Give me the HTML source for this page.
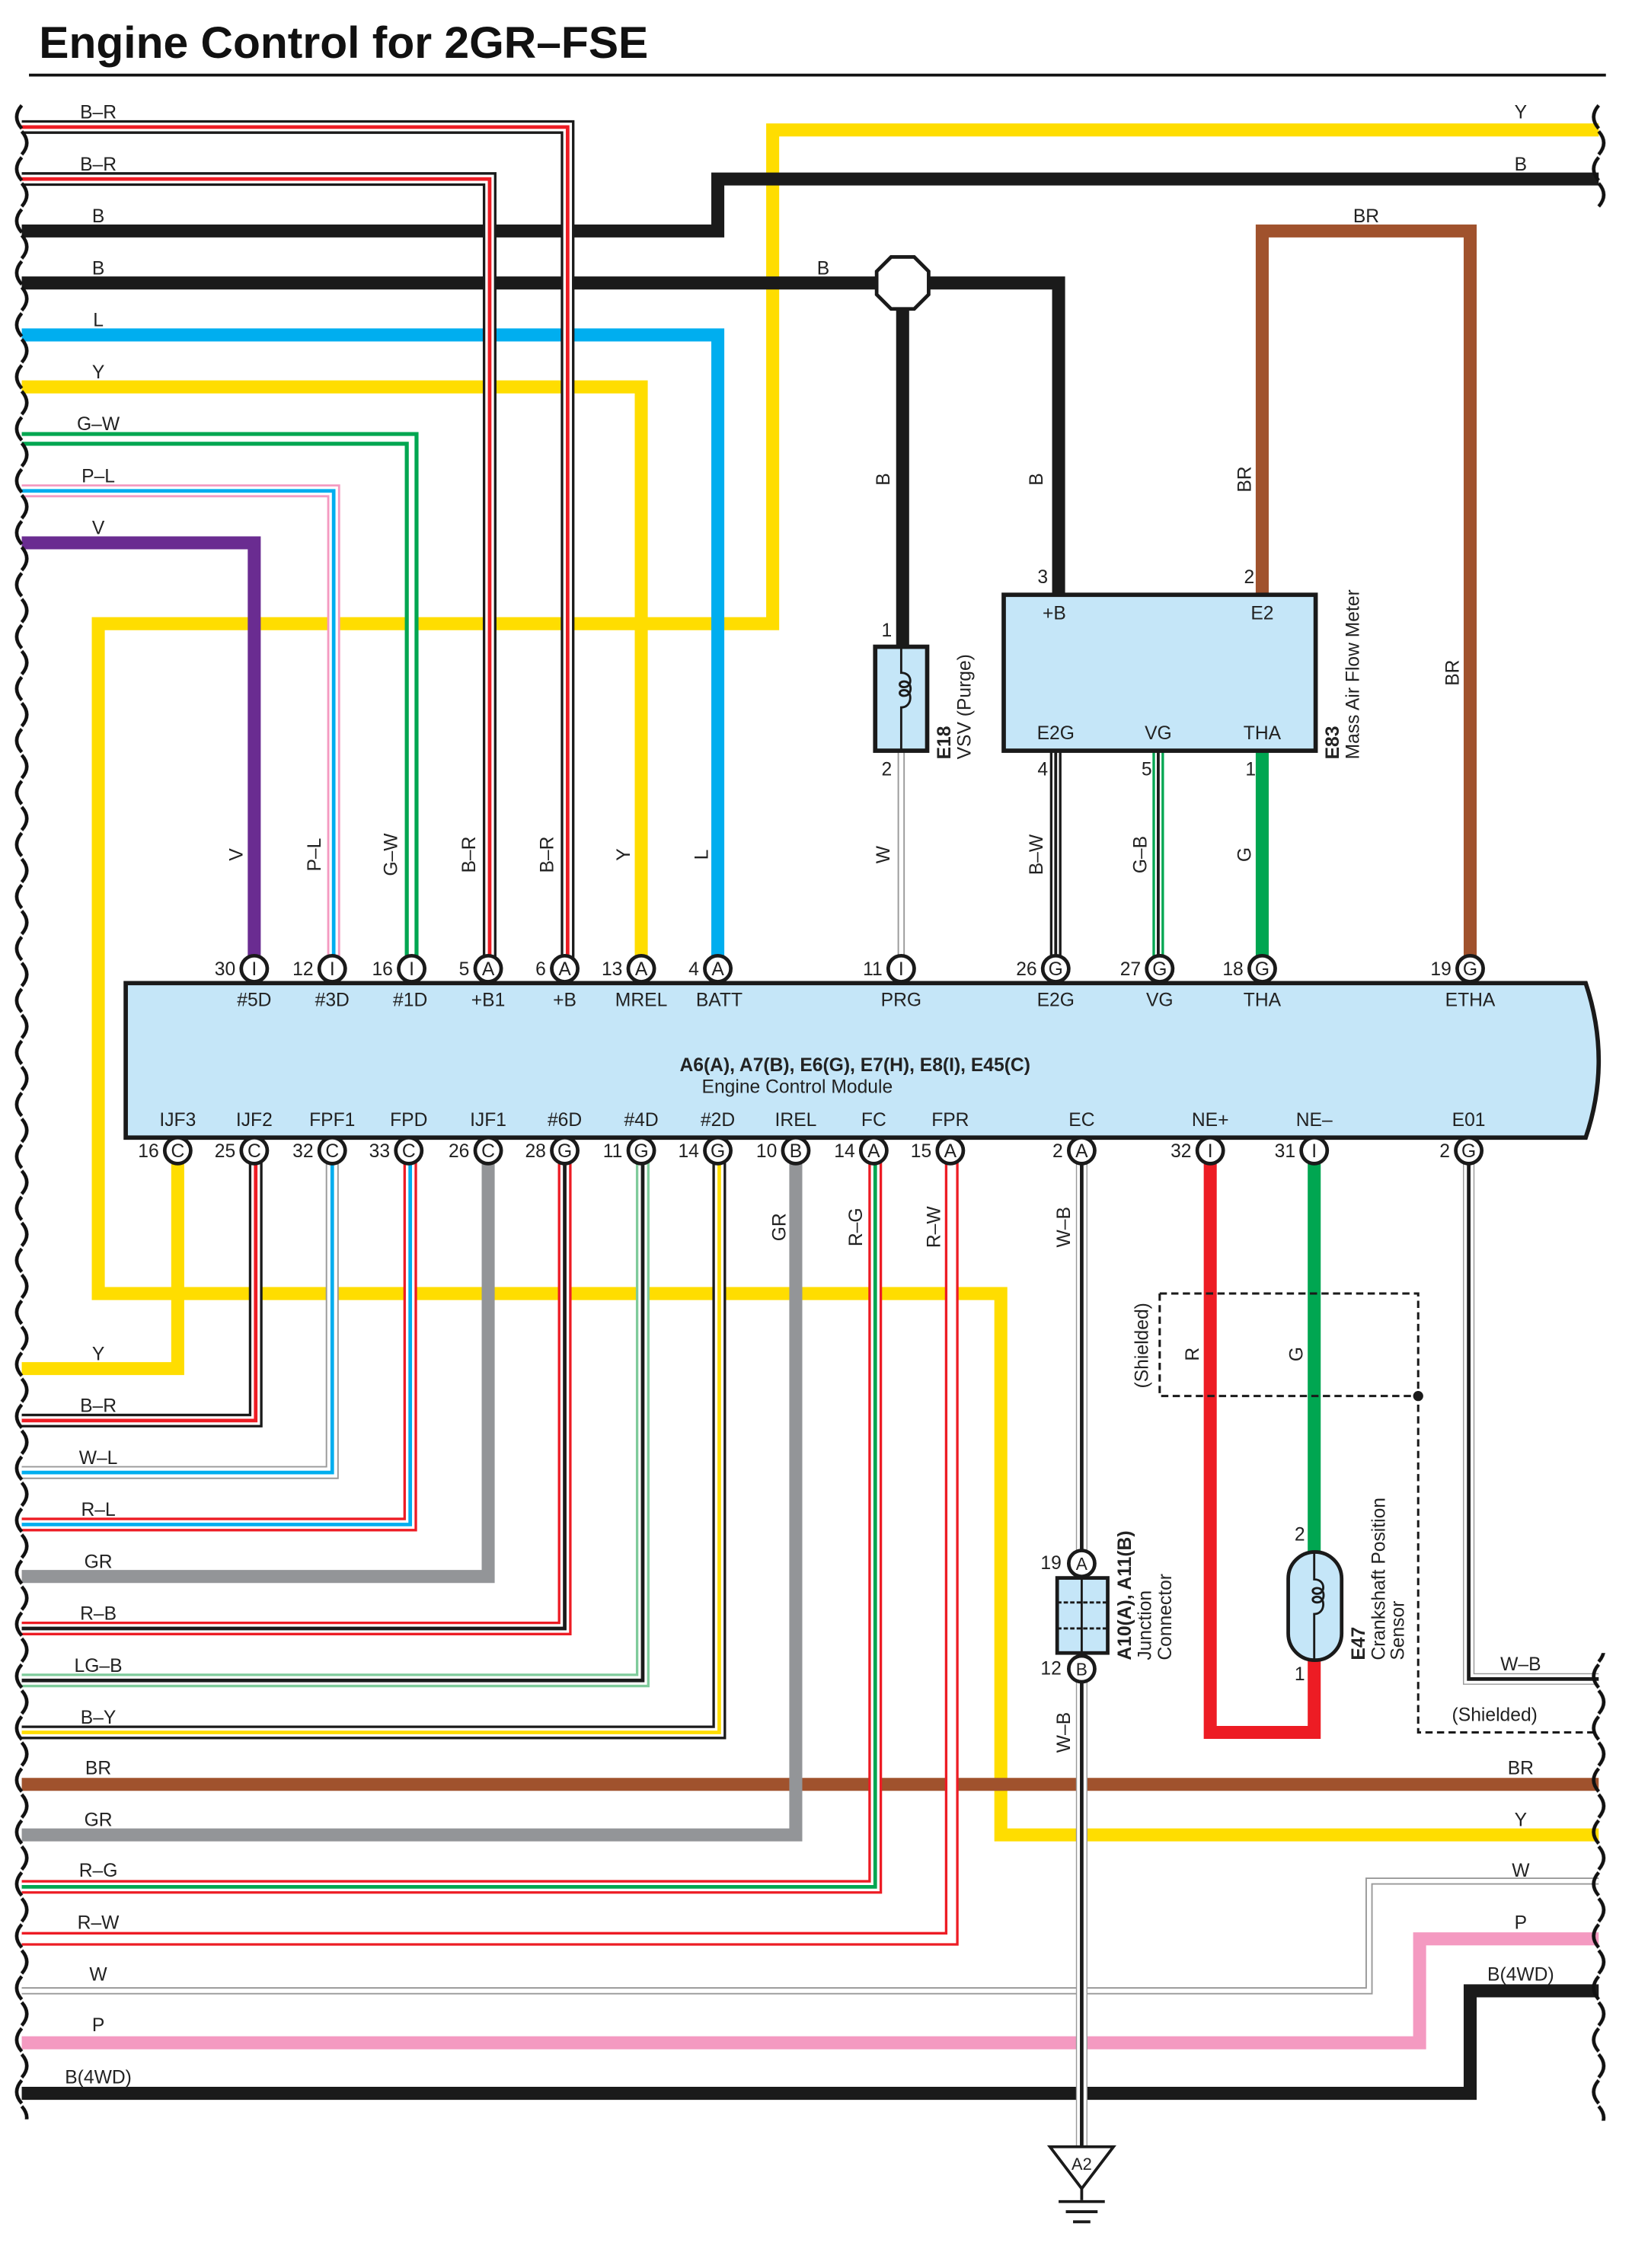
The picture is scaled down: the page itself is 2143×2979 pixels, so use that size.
<!DOCTYPE html>
<html><head><meta charset="utf-8"><style>
html,body{margin:0;padding:0;background:#fff}
svg{display:block}
text{font-family:"Liberation Sans",sans-serif;font-size:13px;fill:#222}
.w{fill:none;stroke-linejoin:miter;stroke-linecap:butt}
</style></head><body>
<svg width="2143" height="2979" viewBox="0 0 1130 1571" xmlns="http://www.w3.org/2000/svg">
<defs>
<pattern id="wave" patternUnits="userSpaceOnUse" width="12" height="36" x="9" y="72">
<path d="M6,1 q-7,8 0,16 M6,19 q7,8 0,16" fill="none" stroke="#111" stroke-width="2.4"/>
</pattern>
</defs>
<rect width="1130" height="1571" fill="#fff"/>
<text x="27" y="40" style="font-size:31px;font-weight:bold;fill:#111">Engine Control for 2GR–FSE</text>
<line x1="20" y1="52" x2="1112" y2="52" stroke="#111" stroke-width="2"/>

<path class="w" d="M1107,90 H535 V432 H68 V896 H693 V1271 H1107" stroke="#ffdd00" stroke-width="9"/>
<path class="w" d="M15,160 H497 V124 H1107" stroke="#1a1a1a" stroke-width="9"/>
<path class="w" d="M15,196 H733 V412" stroke="#1a1a1a" stroke-width="9"/>
<path class="w" d="M625,196 V448" stroke="#1a1a1a" stroke-width="9"/>
<path class="w" d="M15,232 H497 V671" stroke="#00aeef" stroke-width="9"/>
<path class="w" d="M15,268 H444 V671" stroke="#ffdd00" stroke-width="9"/>
<path class="w" d="M15,88 H393 V671" stroke="#1a1a1a" stroke-width="9.5"/>
<path class="w" d="M15,88 H393 V671" stroke="#fff" stroke-width="6"/>
<path class="w" d="M15,88 H393 V671" stroke="#ed1c24" stroke-width="2.5"/>
<path class="w" d="M15,124 H339 V671" stroke="#1a1a1a" stroke-width="9.5"/>
<path class="w" d="M15,124 H339 V671" stroke="#fff" stroke-width="6"/>
<path class="w" d="M15,124 H339 V671" stroke="#ed1c24" stroke-width="2.5"/>
<path class="w" d="M15,304 H285 V671" stroke="#00a651" stroke-width="9.5"/>
<path class="w" d="M15,304 H285 V671" stroke="#fff" stroke-width="4"/>
<path class="w" d="M15,340 H231 V671" stroke="#f49ac1" stroke-width="9"/>
<path class="w" d="M15,340 H231 V671" stroke="#fff" stroke-width="6"/>
<path class="w" d="M15,340 H231 V671" stroke="#00aeef" stroke-width="2.5"/>
<path class="w" d="M15,376 H176 V671" stroke="#6a2c91" stroke-width="9"/>
<path class="w" d="M874,412 V160 H1018 V671" stroke="#a0522d" stroke-width="9"/>
<path class="w" d="M624,520 V671" stroke="#999" stroke-width="5"/>
<path class="w" d="M624,520 V671" stroke="#fff" stroke-width="3"/>
<path class="w" d="M731,520 V671" stroke="#1a1a1a" stroke-width="8"/>
<path class="w" d="M731,520 V671" stroke="#fff" stroke-width="4.5"/>
<path class="w" d="M731,520 V671" stroke="#1a1a1a" stroke-width="2"/>
<path class="w" d="M802,520 V671" stroke="#00a651" stroke-width="8"/>
<path class="w" d="M802,520 V671" stroke="#fff" stroke-width="4.5"/>
<path class="w" d="M802,520 V671" stroke="#1a1a1a" stroke-width="2"/>
<path class="w" d="M874,520 V671" stroke="#00a651" stroke-width="9"/>

<polygon points="617,178 633,178 643,188 643,204 633,214 617,214 607,204 607,188" fill="#fff" stroke="#1a1a1a" stroke-width="2.5"/>

<rect x="606" y="448" width="36" height="72" fill="#c5e6f8" stroke="#1a1a1a" stroke-width="3"/>
<path d="M624,448 V466 c8,0 8,10 2,10 c-4,0 -4,-4 0,-4 c6,0 6,10 0,10 c-4,0 -4,-4 0,-4 c6,0 6,12 -2,12 V520" fill="none" stroke="#1a1a1a" stroke-width="1.5"/>

<rect x="695" y="412" width="216" height="108" fill="#c5e6f8" stroke="#1a1a1a" stroke-width="3"/>
<text x="730" y="429" text-anchor="middle">+B</text>
<text x="874" y="429" text-anchor="middle">E2</text>
<text x="731" y="512" text-anchor="middle">E2G</text>
<text x="802" y="512" text-anchor="middle">VG</text>
<text x="874" y="512" text-anchor="middle">THA</text>
<text x="722" y="404" text-anchor="middle">3</text>
<text x="865" y="404" text-anchor="middle">2</text>
<text x="722" y="537" text-anchor="middle">4</text>
<text x="794" y="537" text-anchor="middle">5</text>
<text x="866" y="537" text-anchor="middle">1</text>
<text x="614" y="441" text-anchor="middle">1</text>
<text x="614" y="537" text-anchor="middle">2</text>
<text transform="translate(927,526) rotate(-90)" style="font-weight:bold">E83</text>
<text transform="translate(941,526) rotate(-90)">Mass Air Flow Meter</text>
<text transform="translate(658,526) rotate(-90)" style="font-weight:bold">E18</text>
<text transform="translate(672,526) rotate(-90)">VSV (Purge)</text>

<g text-anchor="middle">
<text x="68" y="82">B–R</text><text x="68" y="118">B–R</text><text x="68" y="154">B</text><text x="68" y="190">B</text>
<text x="68" y="226">L</text><text x="68" y="262">Y</text><text x="68" y="298">G–W</text><text x="68" y="334">P–L</text><text x="68" y="370">V</text>
<text x="1053" y="82">Y</text><text x="1053" y="118">B</text><text x="570" y="190">B</text><text x="946" y="154">BR</text>
</g>
<g text-anchor="middle">
<text transform="translate(168,592) rotate(-90)">V</text>
<text transform="translate(222,592) rotate(-90)">P–L</text>
<text transform="translate(275,592) rotate(-90)">G–W</text>
<text transform="translate(329,592) rotate(-90)">B–R</text>
<text transform="translate(383,592) rotate(-90)">B–R</text>
<text transform="translate(436,592) rotate(-90)">Y</text>
<text transform="translate(490,592) rotate(-90)">L</text>
<text transform="translate(616,592) rotate(-90)">W</text>
<text transform="translate(722,592) rotate(-90)">B–W</text>
<text transform="translate(794,592) rotate(-90)">G–B</text>
<text transform="translate(866,592) rotate(-90)">G</text>
<text transform="translate(616,332) rotate(-90)">B</text>
<text transform="translate(722,332) rotate(-90)">B</text>
<text transform="translate(866,332) rotate(-90)">BR</text>
<text transform="translate(1010,466) rotate(-90)">BR</text>
</g>

<path class="w" d="M123,797 V948 H15" stroke="#ffdd00" stroke-width="9"/>
<path class="w" d="M177,797 V984 H15" stroke="#1a1a1a" stroke-width="9.5"/>
<path class="w" d="M177,797 V984 H15" stroke="#fff" stroke-width="6"/>
<path class="w" d="M177,797 V984 H15" stroke="#ed1c24" stroke-width="2.5"/>
<path class="w" d="M230,797 V1020 H15" stroke="#999" stroke-width="9"/>
<path class="w" d="M230,797 V1020 H15" stroke="#fff" stroke-width="7"/>
<path class="w" d="M230,797 V1020 H15" stroke="#00aeef" stroke-width="2.5"/>
<path class="w" d="M284,797 V1056 H15" stroke="#ed1c24" stroke-width="9.5"/>
<path class="w" d="M284,797 V1056 H15" stroke="#fff" stroke-width="6"/>
<path class="w" d="M284,797 V1056 H15" stroke="#00aeef" stroke-width="2.5"/>
<path class="w" d="M338,797 V1092 H15" stroke="#939598" stroke-width="9"/>
<path class="w" d="M391,797 V1128 H15" stroke="#ed1c24" stroke-width="9.5"/>
<path class="w" d="M391,797 V1128 H15" stroke="#fff" stroke-width="6"/>
<path class="w" d="M391,797 V1128 H15" stroke="#1a1a1a" stroke-width="2.5"/>
<path class="w" d="M445,797 V1164 H15" stroke="#7fcb9b" stroke-width="9.5"/>
<path class="w" d="M445,797 V1164 H15" stroke="#fff" stroke-width="6"/>
<path class="w" d="M445,797 V1164 H15" stroke="#1a1a1a" stroke-width="2.5"/>
<path class="w" d="M498,797 V1200 H15" stroke="#1a1a1a" stroke-width="9.5"/>
<path class="w" d="M498,797 V1200 H15" stroke="#fff" stroke-width="6"/>
<path class="w" d="M498,797 V1200 H15" stroke="#ffdd00" stroke-width="2.5"/>
<path class="w" d="M15,1236 H1107" stroke="#a0522d" stroke-width="9"/>
<path class="w" d="M551,797 V1271 H15" stroke="#939598" stroke-width="9"/>
<path class="w" d="M606,797 V1307 H15" stroke="#ed1c24" stroke-width="9.5"/>
<path class="w" d="M606,797 V1307 H15" stroke="#fff" stroke-width="6"/>
<path class="w" d="M606,797 V1307 H15" stroke="#00a651" stroke-width="2.5"/>
<path class="w" d="M659,797 V1343 H15" stroke="#ed1c24" stroke-width="9.5"/>
<path class="w" d="M659,797 V1343 H15" stroke="#fff" stroke-width="6"/>
<path class="w" d="M15,1379 H948 V1303 H1107" stroke="#999" stroke-width="5"/>
<path class="w" d="M15,1379 H948 V1303 H1107" stroke="#fff" stroke-width="3"/>
<path class="w" d="M15,1415 H983 V1343 H1107" stroke="#f49ac1" stroke-width="9"/>
<path class="w" d="M15,1450 H1018 V1379 H1107" stroke="#1a1a1a" stroke-width="9"/>

<path class="w" d="M749,797 V1488" stroke="#999" stroke-width="8"/>
<path class="w" d="M749,797 V1488" stroke="#fff" stroke-width="6.5"/>
<path class="w" d="M749,797 V1488" stroke="#1a1a1a" stroke-width="2.5"/>
<path class="w" d="M1017,797 V1163 H1107" stroke="#999" stroke-width="8"/>
<path class="w" d="M1017,797 V1163 H1107" stroke="#fff" stroke-width="6.5"/>
<path class="w" d="M1017,797 V1163 H1107" stroke="#1a1a1a" stroke-width="2.5"/>
<path class="w" d="M838,797 V1200 H910 V1150" stroke="#ed1c24" stroke-width="9"/>
<path class="w" d="M910,797 V1075" stroke="#00a651" stroke-width="9"/>
<path d="M803,896 H982 V1200 H1107 M803,896 V967 H982" fill="none" stroke="#1a1a1a" stroke-width="1.6" stroke-dasharray="5,3"/>
<circle cx="982" cy="967" r="3.5" fill="#1a1a1a"/>

<rect x="892" y="1075" width="37" height="75" rx="18.5" fill="#c5e6f8" stroke="#1a1a1a" stroke-width="2.5"/>
<path d="M910,1075 V1094 c8,0 8,10 2,10 c-4,0 -4,-4 0,-4 c6,0 6,10 0,10 c-4,0 -4,-4 0,-4 c6,0 6,12 -2,12 V1150" fill="none" stroke="#1a1a1a" stroke-width="1.5"/>
<text x="900" y="1067" text-anchor="middle">2</text>
<text x="900" y="1164" text-anchor="middle">1</text>
<text transform="translate(945,1150) rotate(-90)" style="font-weight:bold">E47</text>
<text transform="translate(959,1150) rotate(-90)">Crankshaft Position</text>
<text transform="translate(972,1150) rotate(-90)">Sensor</text>
<text transform="translate(830,938) rotate(-90)" text-anchor="middle">R</text>
<text transform="translate(902,938) rotate(-90)" text-anchor="middle">G</text>
<text transform="translate(795,932) rotate(-90)" text-anchor="middle">(Shielded)</text>
<text x="1035" y="1192" text-anchor="middle">(Shielded)</text>

<rect x="732" y="1093" width="35" height="52" fill="#c5e6f8" stroke="#1a1a1a" stroke-width="2.5"/>
<line x1="749" y1="1093" x2="749" y2="1145" stroke="#1a1a1a" stroke-width="1.5"/>
<line x1="732" y1="1110" x2="767" y2="1110" stroke="#1a1a1a" stroke-width="1.5" stroke-dasharray="3,1.5"/>
<line x1="732" y1="1128" x2="767" y2="1128" stroke="#1a1a1a" stroke-width="1.5" stroke-dasharray="3,1.5"/>
<circle cx="749" cy="1083" r="9" fill="#fff" stroke="#1a1a1a" stroke-width="2.5"/>
<text x="749" y="1087.5" text-anchor="middle" style="font-size:12px">A</text>
<circle cx="749" cy="1156" r="9" fill="#fff" stroke="#1a1a1a" stroke-width="2.5"/>
<text x="749" y="1160.5" text-anchor="middle" style="font-size:12px">B</text>
<text x="735" y="1087" text-anchor="end">19</text>
<text x="735" y="1160" text-anchor="end">12</text>
<text transform="translate(783,1150) rotate(-90)" style="font-weight:bold">A10(A), A11(B)</text>
<text transform="translate(797,1150) rotate(-90)">Junction</text>
<text transform="translate(811,1150) rotate(-90)">Connector</text>
<text transform="translate(741,850) rotate(-90)" text-anchor="middle">W–B</text>
<text transform="translate(741,1200) rotate(-90)" text-anchor="middle">W–B</text>
<polygon points="727,1487 771,1487 749,1516" fill="#fff" stroke="#1a1a1a" stroke-width="2"/>
<text x="749" y="1503" text-anchor="middle" style="font-size:11.5px">A2</text>
<line x1="749" y1="1516" x2="749" y2="1524" stroke="#1a1a1a" stroke-width="2"/>
<line x1="733" y1="1525" x2="765" y2="1525" stroke="#1a1a1a" stroke-width="2"/>
<line x1="738" y1="1532" x2="760" y2="1532" stroke="#1a1a1a" stroke-width="2"/>
<line x1="743" y1="1539" x2="755" y2="1539" stroke="#1a1a1a" stroke-width="2"/>

<g text-anchor="middle">
<text x="68" y="942">Y</text><text x="68" y="978">B–R</text><text x="68" y="1014">W–L</text><text x="68" y="1050">R–L</text>
<text x="68" y="1086">GR</text><text x="68" y="1122">R–B</text><text x="68" y="1158">LG–B</text><text x="68" y="1194">B–Y</text>
<text x="68" y="1229">BR</text><text x="68" y="1265">GR</text><text x="68" y="1300">R–G</text><text x="68" y="1336">R–W</text>
<text x="68" y="1372">W</text><text x="68" y="1407">P</text><text x="68" y="1443">B(4WD)</text>
<text x="1053" y="1157">W–B</text><text x="1053" y="1229">BR</text><text x="1053" y="1265">Y</text><text x="1053" y="1300">W</text>
<text x="1053" y="1336">P</text><text x="1053" y="1372">B(4WD)</text>
<text transform="translate(544,850) rotate(-90)">GR</text>
<text transform="translate(597,850) rotate(-90)">R–G</text>
<text transform="translate(651,850) rotate(-90)">R–W</text>
</g>

<path d="M87,681 H1098 Q1116,735 1098,788 H87 Z" fill="#c5e6f8" stroke="#1a1a1a" stroke-width="3"/>
<text x="592" y="742" text-anchor="middle" style="font-weight:bold;font-size:13px">A6(A), A7(B), E6(G), E7(H), E8(I), E45(C)</text>
<text x="552" y="757" text-anchor="middle">Engine Control Module</text>
<g text-anchor="middle">
<text x="176" y="697">#5D</text><text x="230" y="697">#3D</text><text x="284" y="697">#1D</text><text x="338" y="697">+B1</text>
<text x="391" y="697">+B</text><text x="444" y="697">MREL</text><text x="498" y="697">BATT</text><text x="624" y="697">PRG</text>
<text x="731" y="697">E2G</text><text x="803" y="697">VG</text><text x="874" y="697">THA</text><text x="1018" y="697">ETHA</text>
<text x="123" y="780">IJF3</text><text x="176" y="780">IJF2</text><text x="230" y="780">FPF1</text><text x="283" y="780">FPD</text>
<text x="338" y="780">IJF1</text><text x="391" y="780">#6D</text><text x="444" y="780">#4D</text><text x="497" y="780">#2D</text>
<text x="551" y="780">IREL</text><text x="605" y="780">FC</text><text x="658" y="780">FPR</text><text x="749" y="780">EC</text>
<text x="838" y="780">NE+</text><text x="910" y="780">NE–</text><text x="1017" y="780">E01</text>
</g>
<g stroke="#1a1a1a" stroke-width="2.5" fill="#fff">
<circle cx="176" cy="671" r="9"/><circle cx="230" cy="671" r="9"/><circle cx="285" cy="671" r="9"/><circle cx="338" cy="671" r="9"/>
<circle cx="391" cy="671" r="9"/><circle cx="444" cy="671" r="9"/><circle cx="497" cy="671" r="9"/><circle cx="624" cy="671" r="9"/>
<circle cx="731" cy="671" r="9"/><circle cx="803" cy="671" r="9"/><circle cx="874" cy="671" r="9"/><circle cx="1018" cy="671" r="9"/>
<circle cx="123" cy="797" r="9"/><circle cx="176" cy="797" r="9"/><circle cx="230" cy="797" r="9"/><circle cx="283" cy="797" r="9"/>
<circle cx="338" cy="797" r="9"/><circle cx="391" cy="797" r="9"/><circle cx="444" cy="797" r="9"/><circle cx="497" cy="797" r="9"/>
<circle cx="551" cy="797" r="9"/><circle cx="605" cy="797" r="9"/><circle cx="658" cy="797" r="9"/><circle cx="749" cy="797" r="9"/>
<circle cx="838" cy="797" r="9"/><circle cx="910" cy="797" r="9"/><circle cx="1017" cy="797" r="9"/>
</g>
<g text-anchor="middle" style="font-size:12px">
<text x="176" y="675.5">I</text><text x="230" y="675.5">I</text><text x="285" y="675.5">I</text><text x="338" y="675.5">A</text>
<text x="391" y="675.5">A</text><text x="444" y="675.5">A</text><text x="497" y="675.5">A</text><text x="624" y="675.5">I</text>
<text x="731" y="675.5">G</text><text x="803" y="675.5">G</text><text x="874" y="675.5">G</text><text x="1018" y="675.5">G</text>
<text x="123" y="801.5">C</text><text x="176" y="801.5">C</text><text x="230" y="801.5">C</text><text x="283" y="801.5">C</text>
<text x="338" y="801.5">C</text><text x="391" y="801.5">G</text><text x="444" y="801.5">G</text><text x="497" y="801.5">G</text>
<text x="551" y="801.5">B</text><text x="605" y="801.5">A</text><text x="658" y="801.5">A</text><text x="749" y="801.5">A</text>
<text x="838" y="801.5">I</text><text x="910" y="801.5">I</text><text x="1017" y="801.5">G</text>
</g>
<g text-anchor="end">
<text x="163" y="675.5">30</text><text x="217" y="675.5">12</text><text x="272" y="675.5">16</text><text x="325" y="675.5">5</text>
<text x="378" y="675.5">6</text><text x="431" y="675.5">13</text><text x="484" y="675.5">4</text><text x="611" y="675.5">11</text>
<text x="718" y="675.5">26</text><text x="790" y="675.5">27</text><text x="861" y="675.5">18</text><text x="1005" y="675.5">19</text>
<text x="110" y="801.5">16</text><text x="163" y="801.5">25</text><text x="217" y="801.5">32</text><text x="270" y="801.5">33</text>
<text x="325" y="801.5">26</text><text x="378" y="801.5">28</text><text x="431" y="801.5">11</text><text x="484" y="801.5">14</text>
<text x="538" y="801.5">10</text><text x="592" y="801.5">14</text><text x="645" y="801.5">15</text><text x="736" y="801.5">2</text>
<text x="825" y="801.5">32</text><text x="897" y="801.5">31</text><text x="1004" y="801.5">2</text>
</g>

<rect x="9" y="72" width="12" height="1396" fill="url(#wave)"/>
<rect x="1101" y="72" width="12" height="72" fill="url(#wave)"/>
<rect x="1101" y="1145" width="12" height="324" fill="url(#wave)"/>
</svg>
</body></html>
